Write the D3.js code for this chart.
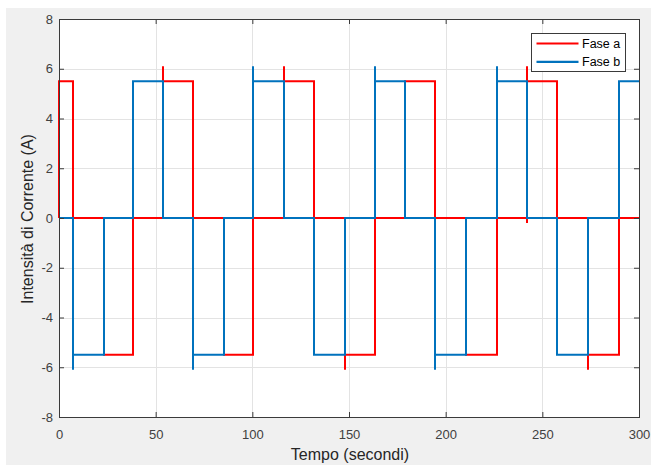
<!DOCTYPE html>
<html>
<head>
<meta charset="utf-8">
<script src="https://cdn.jsdelivr.net/npm/d3@7"></script>
<style>
  body { margin: 0; background: #ffffff; }
</style>
</head>
<body>
<div id="chart"></div>
<script>
// istanti di commutazione (s)
var commutazioni = [0, 7.4, 23.1, 38.4, 53.9, 69.4, 85.3, 100.5, 116.3, 132.0,
                    147.9, 163.4, 178.9, 194.6, 210.4, 226.4, 241.9, 257.7, 273.7, 289.7, 300];
// livello di ciascun tratto (A)
var faseA = [5.5, 0, -5.5, 0, 5.5, 0, -5.5, 0, 5.5, 0, -5.5, 0, 5.5, 0, -5.5, 0, 5.5, 0, -5.5, 0];
var faseB = [0, -5.5, 0, 5.5, 0, -5.5, 0, 5.5, 0, -5.5, 0, 5.5, 0, -5.5, 0, 5.5, 0, -5.5, 0, 5.5];
// picchi sui fronti [t, valore]
var picchiA = [[0, 0], [53.9, 6.1], [116.3, 6.1], [241.9, -0.2], [241.9, 6.1], [147.9, -6.1], [273.7, -6.1]];
var picchiB = [[7.4, -6.1], [69.4, -6.1], [100.5, 6.1], [163.4, 6.1], [194.6, -6.1], [226.4, 6.1]];
var xTicks = [0, 50, 100, 150, 200, 250, 300];
var yTicks = [-8, -6, -4, -2, 0, 2, 4, 6, 8];

var W = 651, H = 465;
var L = 59, T = 19, R = 639, B = 417;

var svg = d3.select("#chart")
  .append("svg")
  .attr("width", W)
  .attr("height", H);

svg.append("rect")
  .attr("x", 6)
  .attr("y", 8)
  .attr("width", W - 6)
  .attr("height", H - 8)
  .attr("fill", "#f0f0f0");

var x = d3.scaleLinear().domain([0, 300]).range([L, R]);
var y = d3.scaleLinear().domain([-8, 8]).range([B, T]);

svg.append("rect")
  .attr("x", L)
  .attr("y", T)
  .attr("width", R - L)
  .attr("height", B - T)
  .attr("fill", "white");

// griglia
var grid = svg.append("g");
grid.selectAll(".gx")
  .data(xTicks)
  .enter()
  .append("line")
  .attr("x1", function(d) { return Math.round(x(d)) + 0.5; })
  .attr("x2", function(d) { return Math.round(x(d)) + 0.5; })
  .attr("y1", T)
  .attr("y2", B)
  .attr("stroke", "#e3e3e3")
  .attr("stroke-width", 1);
grid.selectAll(".gy")
  .data(yTicks)
  .enter()
  .append("line")
  .attr("x1", L)
  .attr("x2", R)
  .attr("y1", function(d) { return Math.round(y(d)) + 0.5; })
  .attr("y2", function(d) { return Math.round(y(d)) + 0.5; })
  .attr("stroke", "#e3e3e3")
  .attr("stroke-width", 1);

function costruisci(livelli, picchi) {
    var pts = [];
    for (var i = 0; i < livelli.length; i++) {
        var t0 = commutazioni[i], t1 = commutazioni[i + 1];
        picchi.forEach(function(p) {
            if (p[0] === t0) pts.push([t0, p[1]]);
        });
        pts.push([t0, livelli[i]]);
        pts.push([t1, livelli[i]]);
    }
    return pts;
}

var line = d3.line()
  .x(function(d) { return Math.round(x(d[0])); })
  .y(function(d) { return y(d[1]); });

svg.append("path")
  .datum(costruisci(faseA, picchiA))
  .attr("fill", "none")
  .attr("stroke", "#ff0000")
  .attr("stroke-width", 2)
  .attr("stroke-linejoin", "miter")
  .attr("d", line);

svg.append("path")
  .datum(costruisci(faseB, picchiB))
  .attr("fill", "none")
  .attr("stroke", "#0072bd")
  .attr("stroke-width", 2)
  .attr("stroke-linejoin", "miter")
  .attr("d", line);

// assi
var axisColor = "#3a3a3a";
var fontFam = "'Liberation Sans', Arial, Helvetica, sans-serif";
var fmt = function(d) { return String(d); };

svg.append("g")
  .attr("transform", "translate(0," + B + ")")
  .call(d3.axisBottom(x).tickValues(xTicks).tickFormat(fmt).tickSizeInner(-5).tickSizeOuter(0).tickPadding(13))
  .call(function(g) {
      g.select(".domain").remove();
      g.selectAll("line").attr("stroke", axisColor);
      g.selectAll("text").attr("fill", "#404040").style("font-size", "13px").attr("font-family", fontFam);
  });

svg.append("g")
  .attr("transform", "translate(0," + T + ")")
  .call(d3.axisTop(x).tickValues(xTicks).tickSizeInner(-5).tickSizeOuter(0).tickFormat(""))
  .call(function(g) {
      g.select(".domain").remove();
      g.selectAll("line").attr("stroke", axisColor);
  });

svg.append("g")
  .attr("transform", "translate(" + L + ",0)")
  .call(d3.axisLeft(y).tickValues(yTicks).tickFormat(fmt).tickSizeInner(-5).tickSizeOuter(0).tickPadding(6))
  .call(function(g) {
      g.select(".domain").remove();
      g.selectAll("line").attr("stroke", axisColor);
      g.selectAll("text").attr("fill", "#404040").style("font-size", "13px").attr("font-family", fontFam);
  });

svg.append("g")
  .attr("transform", "translate(" + R + ",0)")
  .call(d3.axisRight(y).tickValues(yTicks).tickSizeInner(-5).tickSizeOuter(0).tickFormat(""))
  .call(function(g) {
      g.select(".domain").remove();
      g.selectAll("line").attr("stroke", axisColor);
  });

svg.append("rect")
  .attr("x", L + 0.5)
  .attr("y", T + 0.5)
  .attr("width", R - L)
  .attr("height", B - T)
  .attr("fill", "none")
  .attr("stroke", axisColor)
  .attr("stroke-width", 1);

// etichette
svg.append("text")
  .attr("x", 350)
  .attr("y", 459.5)
  .attr("text-anchor", "middle")
  .attr("fill", "#262626")
  .attr("font-family", fontFam)
  .style("font-size", "16px")
  .text("Tempo (secondi)");

svg.append("text")
  .attr("transform", "translate(33,219) rotate(-90)")
  .attr("text-anchor", "middle")
  .attr("fill", "#262626")
  .attr("font-family", fontFam)
  .style("font-size", "16px")
  .text("Intensità di Corrente (A)");

// legenda
var leg = svg.append("g");
leg.append("rect")
  .attr("x", 531.5)
  .attr("y", 33.5)
  .attr("width", 94)
  .attr("height", 38)
  .attr("fill", "white")
  .attr("stroke", axisColor)
  .attr("stroke-width", 1);

var voci = [["Fase a", "#ff0000"], ["Fase b", "#0072bd"]];
voci.forEach(function(v, i) {
    var yy = 43.5 + i * 18.3;
    leg.append("line")
      .attr("x1", 536.5)
      .attr("x2", 578.5)
      .attr("y1", yy)
      .attr("y2", yy)
      .attr("stroke", v[1])
      .attr("stroke-width", 2.2);
    leg.append("text")
      .attr("x", 582)
      .attr("y", yy + 4.5)
      .attr("fill", "#000")
      .attr("font-family", fontFam)
      .style("font-size", "12.5px")
      .text(v[0]);
});
</script>
</body>
</html>
